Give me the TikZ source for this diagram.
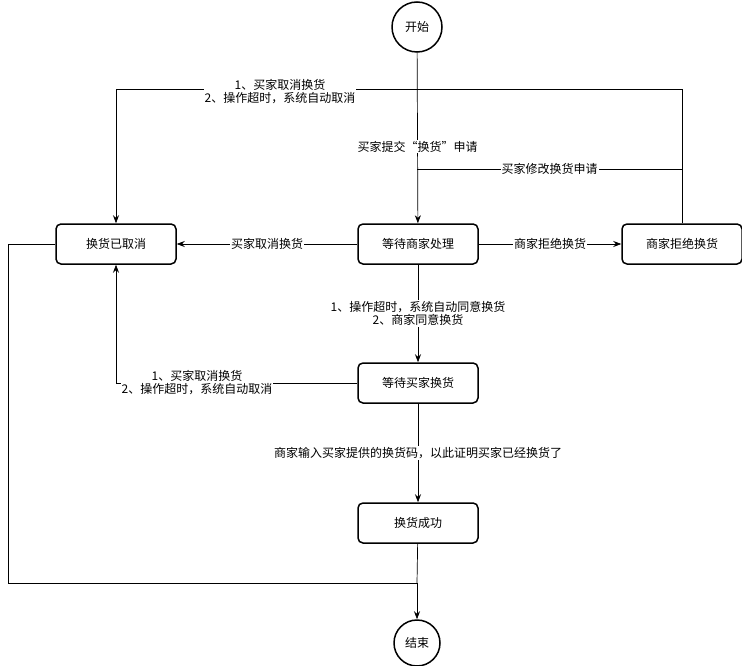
\documentclass[tikz,border=0pt]{standalone}
\usepackage{fontspec}
\setmainfont{Noto Sans CJK SC}
\usetikzlibrary{arrows.meta}
\begin{document}
\begin{tikzpicture}[x=1pt,y=-1pt,
  box/.style={draw,line width=1.5pt,rounded corners=5pt,minimum width=120pt,minimum height=40pt,font=\fontsize{12}{14}\selectfont},
  circ/.style={draw,line width=1.5pt,circle,minimum size=50pt,font=\fontsize{12}{14}\selectfont},
  ar/.style={draw,line width=0.7pt,-{Stealth[length=8pt,width=6pt]}},
  ln/.style={draw,line width=0.7pt},
  lab/.style={fill=white,inner sep=1pt,align=center,font=\fontsize{12}{13}\selectfont}]
\useasboundingbox (0,0) rectangle (742,666);
\node[circ] (start) at (417,27) {开始};
\node[box] (cancel) at (116,244) {换货已取消};
\node[box] (wait) at (418,244) {等待商家处理};
\node[box] (reject) at (682,244) {商家拒绝换货};
\node[box] (buyer) at (418,383) {等待买家换货};
\node[box] (ok) at (418,523) {换货成功};
\node[circ,minimum size=46pt] (end) at (417,643) {结束};
\coordinate (m) at (417,169);
\path[ar] (start) -- node[lab,pos=0.55]{买家提交“换货”申请} (wait);
\path[ar] (reject.north) -- (682,89) -- (116,89) -- (cancel.north);
\node[lab] at (280,92) {1、买家取消换货\\2、操作超时，系统自动取消};
\path[ln] (682,169) -- node[lab]{买家修改换货申请} (m);
\path[ar] (wait) -- node[lab]{商家拒绝换货} (reject);
\path[ar] (wait) -- node[lab]{买家取消换货} (cancel);
\path[ar] (wait) -- node[lab]{1、操作超时，系统自动同意换货\\2、商家同意换货} (buyer);
\path[ar] (buyer.west) -- (116,383) -- (cancel.south);
\node[lab] at (197,383) {1、买家取消换货\\2、操作超时，系统自动取消};
\path[ar] (buyer) -- node[lab,pos=0.5]{商家输入买家提供的换货码，以此证明买家已经换货了} (ok);
\path[ln] (ok) -- (417,583);
\path[ar] (cancel.west) -- (8,244) -- (8,583) -- (417,583) -- (end);
\end{tikzpicture}
\end{document}
